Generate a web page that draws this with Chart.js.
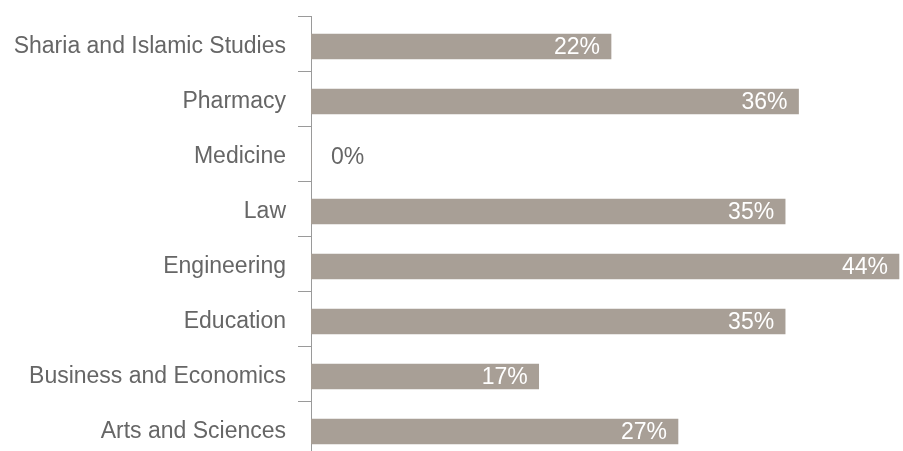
<!DOCTYPE html>
<html>
<head>
<meta charset="utf-8">
<script src="https://cdn.jsdelivr.net/npm/chart.js@4/dist/chart.umd.min.js"></script>
<style>
  html, body { margin: 0; padding: 0; background: #fff; overflow: hidden; }
  #wrap { width: 903px; height: 462px; position: relative; }
</style>
</head>
<body>
<div id="wrap"><canvas id="chart"></canvas></div>
<script>
// Share of students per college (%)
const categories = [
    'Sharia and Islamic Studies',
    'Pharmacy',
    'Medicine',
    'Law',
    'Engineering',
    'Education',
    'Business and Economics',
    'Arts and Sciences'
];
const shares = [22.4, 36.4, 0, 35.4, 43.9, 35.4, 17.0, 27.4];

const FONT = '"Liberation Sans", Helvetica, Arial, sans-serif';
const BAR_COLOR = '#a89f96';
const TEXT_COLOR = '#666666';
const AXIS_COLOR = '#9a9a9a';
const BAR_SHIFT = 3; // bars sit a little below the band centre in the original

// nudge the bars down inside their bands
const barShift = {
    id: 'barShift',
    beforeDatasetsDraw(chart) {
        chart.ctx.save();
        chart.ctx.translate(0, BAR_SHIFT);
    },
    afterDatasetsDraw(chart) {
        chart.ctx.restore();
    }
};

// value labels: white inside the bar end, grey outside when bar is too short
const valueLabels = {
    id: 'valueLabels',
    afterDatasetsDraw(chart) {
        const ctx = chart.ctx;
        const meta = chart.getDatasetMeta(0);
        ctx.save();
        ctx.font = '23px ' + FONT;
        ctx.textBaseline = 'middle';
        meta.data.forEach((bar, i) => {
            const text = Math.round(shares[i]) + '%';
            const w = ctx.measureText(text).width;
            const len = bar.x - bar.base;
            const y = bar.y + BAR_SHIFT + 1;
            if (len > w + 20) {
                ctx.fillStyle = '#ffffff';
                ctx.textAlign = 'right';
                ctx.fillText(text, bar.x - 11, y);
            } else {
                ctx.fillStyle = TEXT_COLOR;
                ctx.textAlign = 'left';
                ctx.fillText(text, bar.x + 20, y);
            }
        });
        ctx.restore();
    }
};

new Chart(document.getElementById('chart'), {
    type: 'bar',
    data: {
        labels: categories,
        datasets: [{
            data: shares,
            backgroundColor: BAR_COLOR,
            borderWidth: 0,
            barThickness: 25
        }]
    },
    options: {
        indexAxis: 'y',
        responsive: true,
        maintainAspectRatio: false,
        animation: false,
        layout: { padding: { top: 16, bottom: 6, left: 0, right: 0 } },
        plugins: {
            legend: { display: false },
            tooltip: { enabled: false }
        },
        scales: {
            x: {
                display: false,
                min: 0,
                max: 44.2
            },
            y: {
                afterFit(axis) {
                    axis.width = 311;
                    axis.paddingTop = 0;
                    axis.paddingBottom = 0;
                },
                border: { display: true, color: AXIS_COLOR, width: 1 },
                grid: {
                    offset: true,
                    drawOnChartArea: false,
                    drawTicks: true,
                    tickLength: 13,
                    color: AXIS_COLOR
                },
                ticks: {
                    color: TEXT_COLOR,
                    padding: 12,
                    labelOffset: BAR_SHIFT,
                    font: { family: FONT, size: 23 }
                }
            }
        }
    },
    plugins: [barShift, valueLabels]
});
</script>
</body>
</html>
